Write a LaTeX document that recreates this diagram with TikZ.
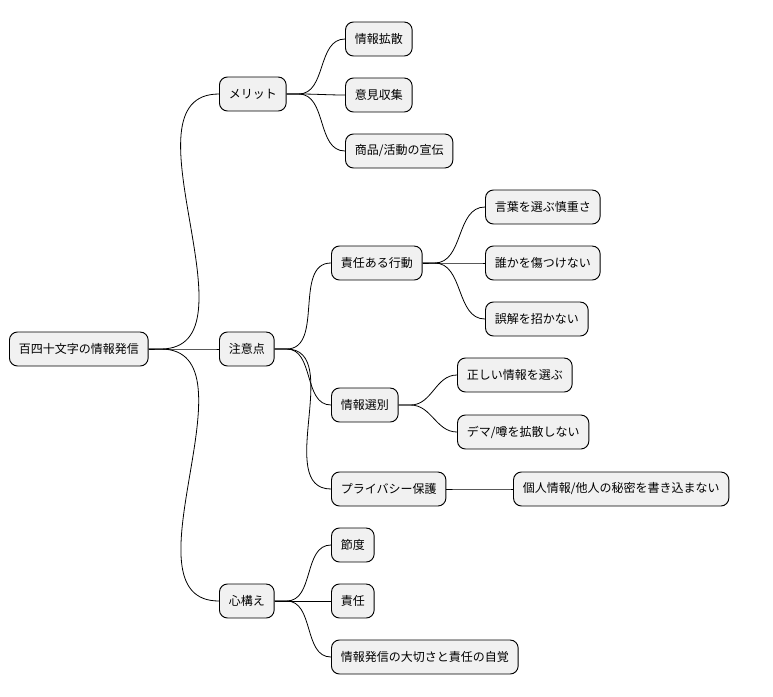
\documentclass[tikz,border=0pt]{standalone}
\usepackage{fontspec}
\setmainfont{Noto Sans CJK JP}
\usepackage{tikz}
\usetikzlibrary{positioning}
\definecolor{boxfill}{HTML}{F1F1F1}
\tikzset{
  topic/.style={draw=black, fill=boxfill, rounded corners=6pt, line width=0.7pt,
    minimum height=25.5pt, inner xsep=7pt, anchor=west, font=\fontsize{9pt}{11pt}\selectfont},
  link/.style={line width=0.6pt}
}
\begin{document}
\begin{tikzpicture}[x=0.75pt, y=-0.75pt]
  \useasboundingbox (0,0) rectangle (773,696);
  % root and branches
  \node[topic] (r) at (9,349) {百四十文字の情報発信};
  \node[topic] (m) at (219,94) {メリット};
  \node[topic] (c) at (219,349) {注意点};
  \node[topic] (k) at (219,601) {心構え};
  % merit
  \node[topic] (m1) at (345,39) {情報拡散};
  \node[topic] (m2) at (345,95) {意見収集};
  \node[topic] (m3) at (345,151) {商品/活動の宣伝};
  % caution
  \node[topic] (c1) at (331,263) {責任ある行動};
  \node[topic] (c11) at (485,207) {言葉を選ぶ慎重さ};
  \node[topic] (c12) at (485,263) {誰かを傷つけない};
  \node[topic] (c13) at (485,319) {誤解を招かない};
  \node[topic] (c2) at (331,405) {情報選別};
  \node[topic] (c21) at (457,375) {正しい情報を選ぶ};
  \node[topic] (c22) at (457,432) {デマ/噂を拡散しない};
  \node[topic] (c3) at (331,489) {プライバシー保護};
  \node[topic] (c31) at (513,489) {個人情報/他人の秘密を書き込まない};
  % attitude
  \node[topic] (k1) at (331,545) {節度};
  \node[topic] (k2) at (331,601) {責任};
  \node[topic] (k3) at (331,657) {情報発信の大切さと責任の自覚};

  \foreach \p/\q in {r/m, r/c, r/k, m/m1, m/m2, m/m3, c/c1, c/c2, c/c3,
                     c1/c11, c1/c12, c1/c13, c2/c21, c2/c22, c3/c31, k/k1, k/k2, k/k3}
    \draw[link] (\p.east) -- ++(12,0) to[out=0, in=180] (\q.west);
\end{tikzpicture}
\end{document}
